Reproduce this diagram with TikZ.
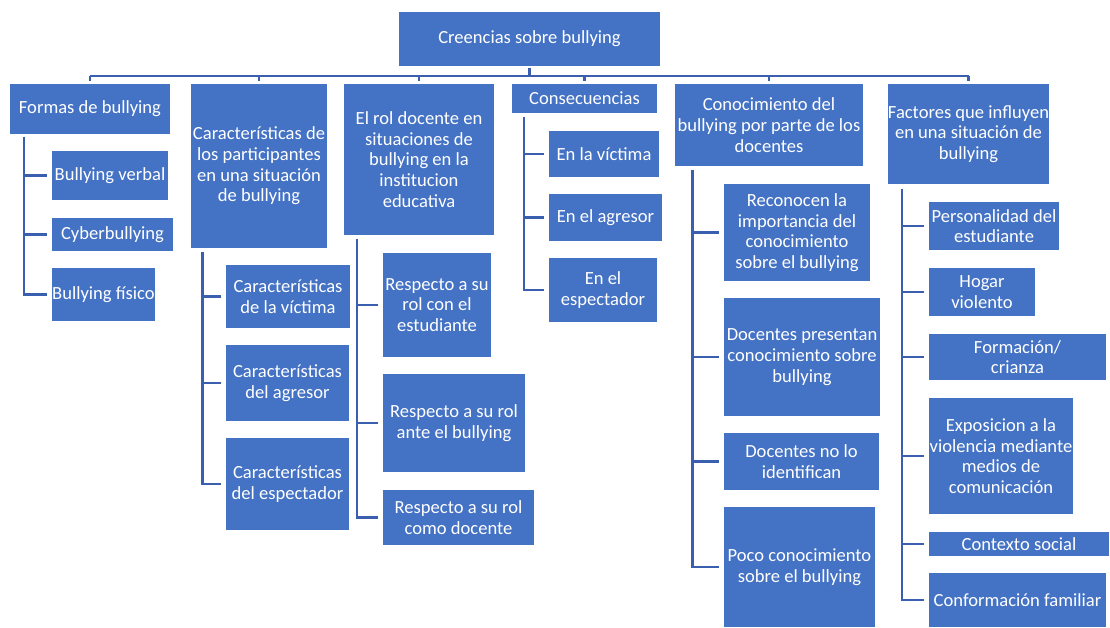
\documentclass[tikz,border=0pt]{standalone}
\usepackage{fontspec}
\setmainfont{Carlito}
\definecolor{cajaazul}{HTML}{4472C4}
\definecolor{lineaazul}{HTML}{3A5FAE}

\tikzset{
  caja/.style 2 args={fill=cajaazul,draw=white,line width=0.8pt,inner sep=0pt,
    minimum width=#1*0.025cm,minimum height=#2*0.025cm,
    text=white,align=center,font=\fontsize{13.2}{14.7}\selectfont},
  rama/.style={draw=lineaazul,line width=1.9pt,shorten >=2.5pt}
}

\begin{document}
\begin{tikzpicture}[x=0.025cm,y=-0.025cm]
  \useasboundingbox (0,0) rectangle (1110,628);
  % raiz
  \node[caja={263}{56}] (raiz) at (529.5,39) {Creencias sobre bullying};
  % primer nivel
  \node[caja={162}{52}] (formas) at (90,109) {Formas de bullying};
  \node[caja={138}{166}] (caract) at (259,166) {Características de\\los participantes\\en una situación\\de bullying};
  \node[caja={152}{153}] (rol) at (419,159.5) {El rol docente en\\situaciones de\\bullying en la\\institucion\\educativa};
  \node[caja={147}{31}] (consec) at (584.5,98.5) {Consecuencias};
  \node[caja={190}{84}] (conoc) at (769,125) {Conocimiento del\\bullying por parte de los\\docentes};
  \node[caja={163}{102}] (factores) at (968.5,134) {Factores que influyen\\en una situación de\\bullying};
  % formas
  \node[caja={118}{51}] (verbal) at (110,175.5) {Bullying verbal};
  \node[caja={123}{35}] (ciber) at (112.5,234.5) {Cyberbullying};
  \node[caja={105}{55}] (fisico) at (103.5,294.5) {Bullying físico};
  % caracteristicas
  \node[caja={126}{65}] (victima) at (288,296.5) {Características\\de la víctima};
  \node[caja={125}{78}] (agresor) at (287.5,383) {Características\\del agresor};
  \node[caja={125}{94}] (espect) at (287.5,484) {Características\\del espectador};
  % rol docente
  \node[caja={110}{106}] (estud) at (437,305) {Respecto a su\\rol con el\\estudiante};
  \node[caja={144}{100}] (ante) at (454,423) {Respecto a su rol\\ante el bullying};
  \node[caja={153}{57}] (comodoc) at (458.5,517.5) {Respecto a su rol\\como docente};
  % consecuencias
  \node[caja={112}{48}] (envic) at (604,154) {En la víctima};
  \node[caja={115}{49}] (enagr) at (605.5,217.5) {En el agresor};
  \node[caja={110}{66}] (enesp) at (603,290) {En el\\espectador};
  % conocimiento
  \node[caja={148}{99}] (recon) at (797,232.5) {Reconocen la\\importancia del\\conocimiento\\sobre el bullying};
  \node[caja={158}{120}] (present) at (802,357) {Docentes presentan\\conocimiento sobre\\bullying};
  \node[caja={157}{59}] (noident) at (801.5,461.5) {Docentes no lo\\identifican};
  \node[caja={153}{122}] (poco) at (799.5,567) {Poco conocimiento\\sobre el bullying};
  % factores
  \node[caja={132}{50}] (person) at (994,226) {Personalidad del\\estudiante};
  \node[caja={108}{50}] (hogar) at (982,292) {Hogar\\violento};
  \node[caja={179}{48}] (crianza) at (1017.5,357) {Formación/\\crianza};
  \node[caja={146}{118}] (expo) at (1001,456) {Exposicion a la\\violencia mediante\\medios de\\comunicación};
  \node[caja={182}{26}] (contexto) at (1019,544) {Contexto social};
  \node[caja={179}{56}] (conform) at (1017.5,600) {Conformación familiar};

  % barra superior
  \coordinate (bus) at (530,76);
  \draw[rama,shorten >=0pt] (raiz.south) -- (raiz.south |- bus);
  \draw[rama,shorten >=0pt] (formas.north |- bus) -- (factores.north |- bus);
  \foreach \n in {formas,caract,rol,consec,conoc,factores}
    \draw[rama,shorten >=1pt] (\n.north |- bus) -- (\n.north);

  % troncos
  \coordinate (tFormas) at (24,137);
  \coordinate (tCaract) at (202.5,252);
  \coordinate (tRol) at (357,239);
  \coordinate (tConsec) at (524,117);
  \coordinate (tConoc) at (692.5,170);
  \coordinate (tFact) at (902,189);
  \foreach \h in {verbal,ciber,fisico}
    \draw[rama] (tFormas) |- (\h.west);
  \foreach \h in {victima,agresor,espect}
    \draw[rama] (tCaract) |- (\h.west);
  \foreach \h in {estud,ante,comodoc}
    \draw[rama] (tRol) |- (\h.west);
  \foreach \h in {envic,enagr,enesp}
    \draw[rama] (tConsec) |- (\h.west);
  \foreach \h in {recon,present,noident,poco}
    \draw[rama] (tConoc) |- (\h.west);
  \foreach \h in {person,hogar,crianza,expo,contexto,conform}
    \draw[rama] (tFact) |- (\h.west);
\end{tikzpicture}
\end{document}
